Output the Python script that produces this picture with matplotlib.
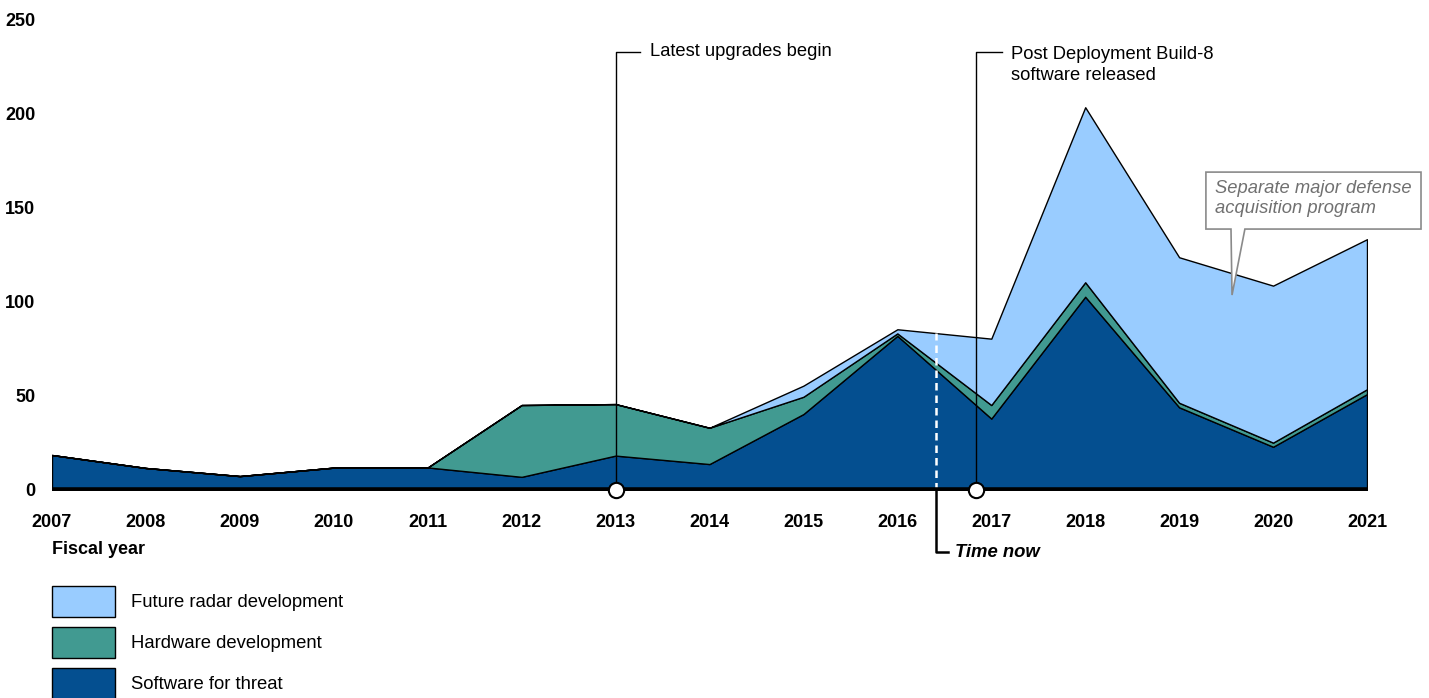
import numpy as np
import matplotlib
matplotlib.use("Agg")
import matplotlib.pyplot as plt
from matplotlib.patches import Polygon

plt.rcParams['font.family'] = ['Liberation Sans', 'DejaVu Sans']

# Data
years = np.arange(2007, 2022)
software = [18.6, 11.7, 7.4, 11.9, 12.0, 7.0, 18.3, 13.8, 40.4, 82.0, 38.0, 102.8, 44.0, 23.0, 51.0]
hardware = [0, 0, 0, 0, 0, 38.2, 27.4, 19.3, 9.2, 1.3, 7.2, 7.7, 2.4, 2.2, 2.6]
future = [0, 0, 0, 0, 0, 0, 0, 0, 5.9, 2.2, 35.3, 93.1, 77.4, 83.5, 79.8]
labels = ["Software for threat", "Hardware development", "Future radar development"]
colors = ["#044f90", "#419a91", "#99ccff"]
yticks = [0, 50, 100, 150, 200, 250]

time_now = 2016.41
upgrades_year = 2013
build8_year = 2016.84

W, H = 1429, 698
fig = plt.figure(figsize=(W / 100, H / 100), dpi=100)
ax = fig.add_axes([52 / W, 1 - 490 / H, (1367 - 52) / W, (490 - 20) / H])

polys = ax.stackplot(years, software, hardware, future, colors=colors,
                     edgecolor="black", linewidth=1, labels=labels)
ax.set_xlim(2007, 2021)
ax.set_ylim(0, 250)
ax.axhline(0, color="black", lw=4, zorder=5)

for s in ax.spines.values():
    s.set_visible(False)
ax.set_xticks(years)
ax.set_xticklabels([str(y) for y in years], fontsize=13, fontweight="bold")
ax.set_yticks(yticks)
ax.set_yticklabels([str(v) for v in yticks], fontsize=13, fontweight="bold")
ax.tick_params(axis="both", length=0)
ax.tick_params(axis="x", pad=17.5)
ax.tick_params(axis="y", pad=12)

# Time now marker
total = np.array(software) + np.array(hardware) + np.array(future)
top_now = np.interp(time_now, years, total)
ax.plot([time_now, time_now], [0, top_now], color="white", lw=1.8, ls=(0, (3, 2)), zorder=4)
ax.plot([time_now, time_now, time_now + 0.13], [0, -33, -33], color="black", lw=1.8,
        clip_on=False, zorder=6)
ax.text(time_now + 0.2, -33, "Time now", fontsize=13.3, fontweight="bold", style="italic",
        va="center", ha="left")

# Event callouts
ax.plot([upgrades_year, upgrades_year, upgrades_year + 0.26], [0, 233, 233], color="black",
        lw=1, clip_on=False, zorder=6)
ax.text(upgrades_year + 0.37, 233, "Latest upgrades begin", fontsize=13.2, va="center")
ax.plot([build8_year, build8_year, build8_year + 0.27], [0, 233, 233], color="black",
        lw=1, clip_on=False, zorder=6)
ax.text(build8_year + 0.37, 236, "Post Deployment Build-8\nsoftware released", fontsize=13.2,
        va="top", linespacing=1.27)
ax.plot([upgrades_year, build8_year], [0, 0], ls="none", marker="o", ms=11,
        mfc="white", mec="black", mew=1.5, clip_on=False, zorder=7)

# Separate program callout box
box = [(2019.285, 169.1), (2021.575, 169.1), (2021.575, 138.8), (2019.70, 138.8),
       (2019.563, 103.7), (2019.552, 138.8), (2019.285, 138.8)]
ax.add_patch(Polygon(box, closed=True, facecolor="white", edgecolor="#8a8a8a", lw=1.2,
                     clip_on=False, zorder=8))
ax.text(2019.38, 165, "Separate major defense\nacquisition program", fontsize=13.2,
        style="italic", color="#707070", va="top", linespacing=1.27, zorder=9)

fig.text(52 / W, 1 - 550 / H, "Fiscal year", fontsize=13, fontweight="bold", va="center")

handles = polys[::-1]
fig.legend(handles, labels[::-1], loc="upper left", bbox_to_anchor=(52 / W, 1 - 586 / H),
           frameon=False, fontsize=13.3, handlelength=3.4, handleheight=2.22,
           labelspacing=0.52, handletextpad=0.85, borderpad=0, borderaxespad=0)

fig.savefig("out.png", dpi=100)
